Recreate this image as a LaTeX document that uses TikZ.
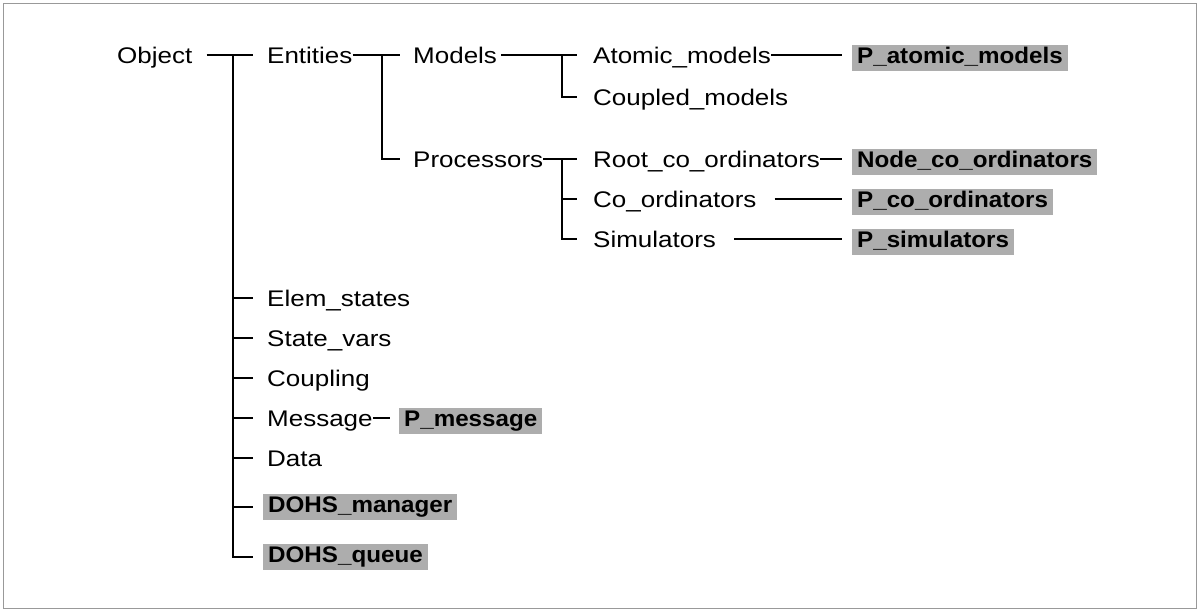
\documentclass[tikz,border=0pt]{standalone}
\usepackage{fontspec}
\setmainfont{Liberation Sans}[FakeStretch=1.15]
\newfontfamily\boxfont{Liberation Sans}[FakeStretch=1.07]
\definecolor{boxgray}{gray}{0.68}
\definecolor{framegray}{gray}{0.6}
\begin{document}
\begin{tikzpicture}[x=1pt,y=-1pt,
  lab/.style={inner sep=0pt, text height=16pt, text depth=0pt, anchor=west,
    font=\fontsize{22.6}{26}\selectfont},
  hl/.style={fill=boxgray, inner xsep=5pt, inner ysep=2.5pt, text height=16pt,
    text depth=5pt, anchor=west, font=\boxfont\bfseries\fontsize{22.6}{26}\selectfont},
  conn/.style={line width=1.4pt, black}]
\useasboundingbox (0,0) rectangle (1200,611);
\draw[framegray, line width=1pt] (3,3) rectangle (1196,608);

% labels
\node[lab] (object) at (117,55) {Object};
\node[lab] (entities) at (267,55) {Entities};
\node[lab] (models) at (413,55) {Models};
\node[lab] (atomic) at (593,55) {Atomic\_models};
\node[lab] (coupled) at (593,97) {Coupled\_models};
\node[lab] (processors) at (413,159) {Processors};
\node[lab] (root) at (593,159) {Root\_co\_ordinators};
\node[lab] (coord) at (593,199) {Co\_ordinators};
\node[lab] (sim) at (593,239) {Simulators};
\node[lab] (elem) at (267,298) {Elem\_states};
\node[lab] (state) at (267,338) {State\_vars};
\node[lab] (coupling) at (267,378) {Coupling};
\node[lab] (message) at (267,418) {Message};
\node[lab] (data) at (267,458) {Data};

% highlighted classes
\node[hl] (patomic) at (852,57.5) {P\_atomic\_models};
\node[hl] (pnode) at (852,161.5) {Node\_co\_ordinators};
\node[hl] (pcoord) at (852,201.5) {P\_co\_ordinators};
\node[hl] (psim) at (852,241.5) {P\_simulators};
\node[hl] (pmsg) at (399,420.5) {P\_message};
\node[hl] (dm) at (263,507) {DOHS\_manager};
\node[hl] (dq) at (263,557) {DOHS\_queue};

% junction coordinates
\coordinate (t1) at (233,55);
\coordinate (t2) at (382,55);
\coordinate (t3) at (562,55);
\coordinate (t4) at (562,159);
\path ([xshift=-10pt]patomic.west) coordinate (pain)
      ([xshift=-10pt]pnode.west) coordinate (pnin)
      ([xshift=-10pt]pcoord.west) coordinate (pcin)
      ([xshift=-10pt]psim.west) coordinate (psin)
      ([xshift=-9pt]pmsg.west) coordinate (pmin);

% trunk 1 (Object)
\draw[conn] ([xshift=14pt]object.east) -- ([xshift=-14pt]entities.west);
\draw[conn] (t1) -- (t1 |- dq.west) -- ([xshift=-10pt]dq.west);
\draw[conn] (t1 |- elem.west) -- ([xshift=-14pt]elem.west);
\draw[conn] (t1 |- state.west) -- ([xshift=-14pt]state.west);
\draw[conn] (t1 |- coupling.west) -- ([xshift=-14pt]coupling.west);
\draw[conn] (t1 |- message.west) -- ([xshift=-14pt]message.west);
\draw[conn] (t1 |- data.west) -- ([xshift=-14pt]data.west);
\draw[conn] (t1 |- dm.west) -- ([xshift=-10pt]dm.west);

% trunk 2 (Entities)
\draw[conn] (entities.east) -- ([xshift=-13pt]models.west);
\draw[conn] (t2) |- ([xshift=-13pt]processors.west);

% trunk 3 (Models)
\draw[conn] ([xshift=4pt]models.east) -- ([xshift=-16pt]atomic.west);
\draw[conn] (t3) |- ([xshift=-16pt]coupled.west);

% trunk 4 (Processors)
\draw[conn] (processors.east) -- ([xshift=-16pt]root.west);
\draw[conn] (t4) |- ([xshift=-16pt]sim.west);
\draw[conn] (t4 |- coord.west) -- ([xshift=-16pt]coord.west);

% leaves
\draw[conn] (atomic.east) -- (atomic.east -| pain);
\draw[conn] (root.east) -- (root.east -| pnin);
\draw[conn] ([xshift=18pt]coord.east) -- (coord.east -| pcin);
\draw[conn] ([xshift=18pt]sim.east) -- (sim.east -| psin);
\draw[conn] (message.east) -- (message.east -| pmin);
\end{tikzpicture}
\end{document}
